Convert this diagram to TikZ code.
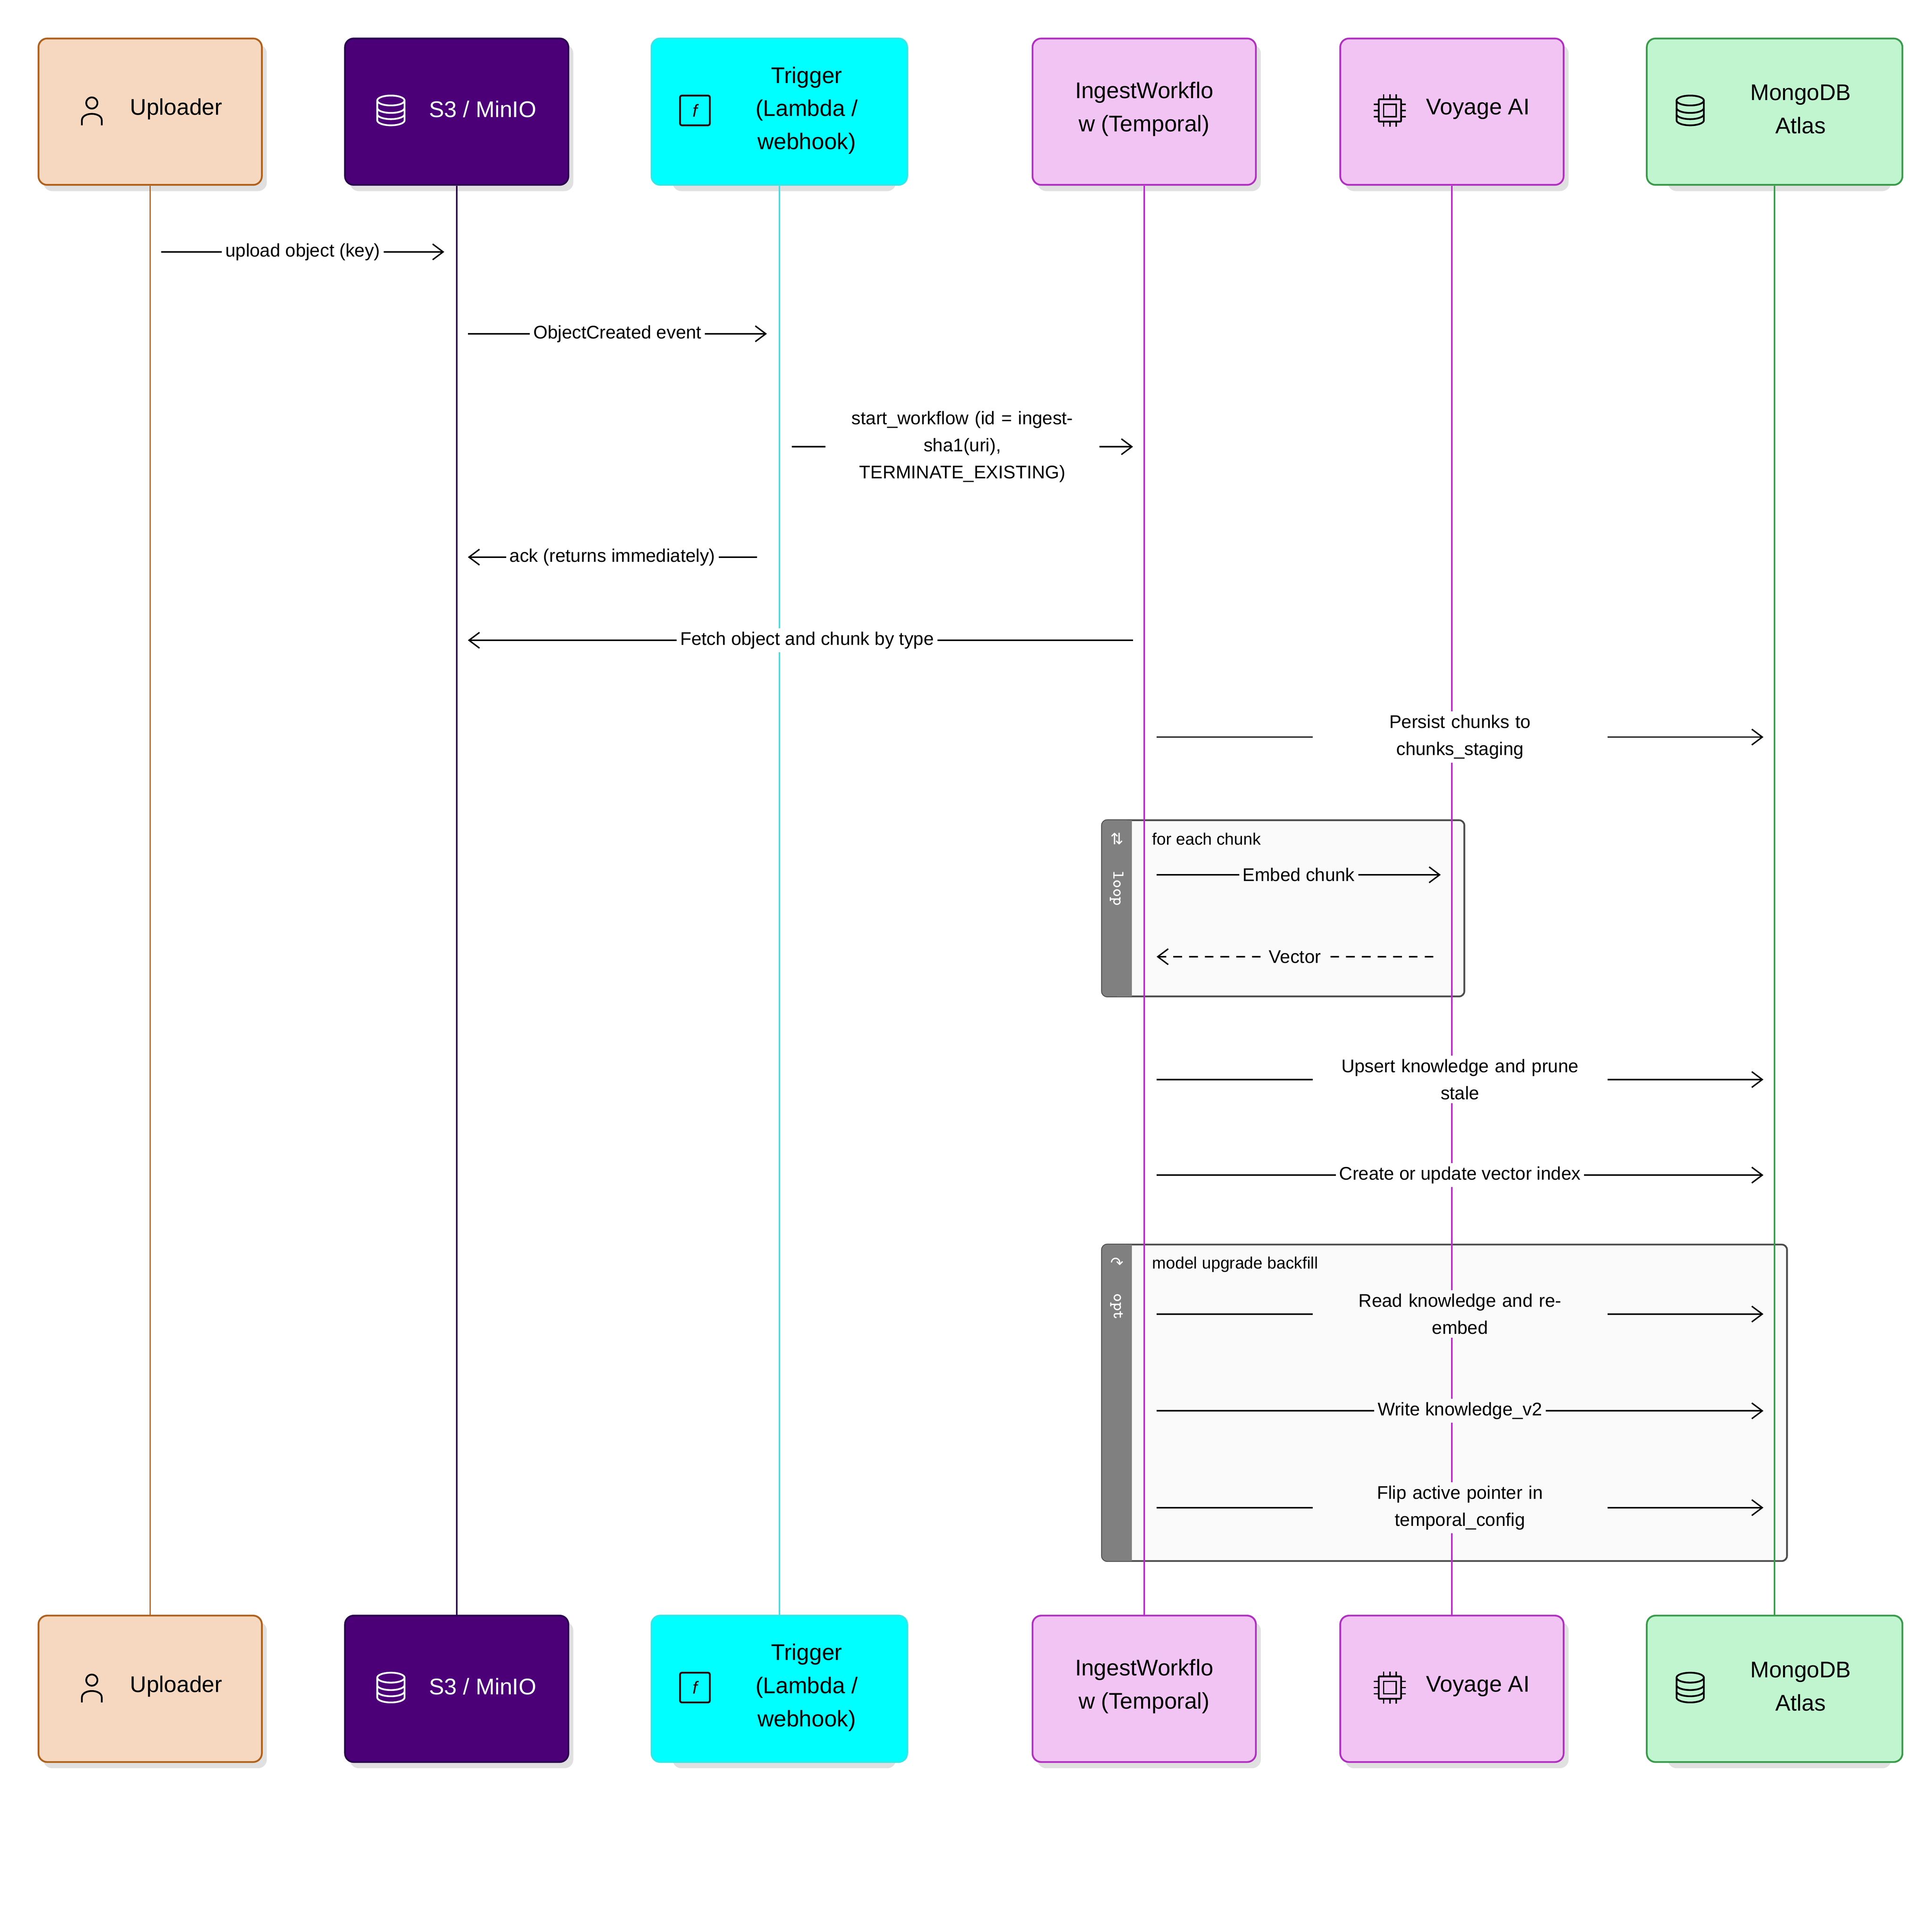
\documentclass[tikz,border=0pt]{standalone}
\usepackage{fontspec}
\setmainfont{Liberation Sans}
\newfontfamily\djv{DejaVu Sans}
\usetikzlibrary{arrows.meta}
\definecolor{upF}{HTML}{F6D8C0}\definecolor{upD}{HTML}{B0601A}
\definecolor{s3F}{HTML}{4B0078}\definecolor{s3D}{HTML}{2A0050}
\definecolor{trF}{HTML}{00FFFF}\definecolor{trD}{HTML}{30E8E8}
\definecolor{pkF}{HTML}{F2C4F4}\definecolor{pkD}{HTML}{B030C0}
\definecolor{mgF}{HTML}{C0F5D0}\definecolor{mgD}{HTML}{3A9A4A}
\tikzset{
  part/.style={rounded corners=10pt,line width=2pt,minimum width=180*0.05cm,minimum height=118*0.05cm,inner sep=0pt},
  shad/.style={fill=black!12,rounded corners=10pt},
  ptext/.style={font=\fontsize{26}{38}\selectfont,align=center},
  mlabel/.style={font=\fontsize{21}{31}\selectfont,fill=white,inner sep=4pt,align=center},
  msg/.style={line width=1.6pt,-{Straight Barb[length=12pt,width=18pt,line width=1.6pt]}},
  life/.style={line width=1.6pt},
  grp/.style={draw=black!70,line width=2pt,fill=black!2,rounded corners=6pt},
  pics/person/.style={code={\draw[line width=2pt] (0,-6) circle[radius=4.5];
     \draw[line width=2pt] (-8,12) -- (-8,8) .. controls (-8,1) and (8,1) .. (8,8) -- (8,12);}},
  pics/db/.style={code={\draw[line width=2pt] (0,-8) ellipse[x radius=11,y radius=4];
     \draw[line width=2pt] (-11,-8) -- (-11,8) arc[start angle=180,end angle=360,x radius=11,y radius=-4] -- (11,-8);
     \draw[line width=2pt] (-11,-2) arc[start angle=180,end angle=360,x radius=11,y radius=-4];
     \draw[line width=2pt] (-11,3) arc[start angle=180,end angle=360,x radius=11,y radius=-4];}},
  pics/fn/.style={code={\draw[line width=2pt,rounded corners=2pt] (-12,-12) rectangle (12,12);
     \node[font=\fontsize{20}{20}\selectfont\itshape] at (0,0) {f};}},
  pics/chip/.style={code={\draw[line width=2pt,rounded corners=1pt] (-9,-9) rectangle (9,9);
     \draw[line width=1.6pt] (-5,-5) rectangle (5,5);
     \foreach \t in {-5,0,5}{\draw[line width=1.6pt] (\t,-9)--(\t,-13) (\t,9)--(\t,13) (-9,\t)--(-13,\t) (9,\t)--(13,\t);}}},
}
\begin{document}
\begin{tikzpicture}[x=0.05cm,y=-0.05cm]
\useasboundingbox (0,0) rectangle (1552,1557);
% groups
\draw[grp] (888,661) rectangle (1180,803);
\fill[black!50,rounded corners=6pt] (888,661) rectangle (912,803);
\fill[black!50] (900,661) rectangle (912,803);
\node[font=\fontsize{18}{18}\selectfont\djv,text=white] at (900,676) {⇅};
\node[font=\fontsize{19}{19}\selectfont\ttfamily\bfseries,text=white,rotate=-90] at (900,716) {loop};
\node[anchor=west,font=\fontsize{19}{24}\selectfont] (lt) at (926,676) {for each chunk};
\draw[grp] (888,1003) rectangle (1440,1258);
\fill[black!50,rounded corners=6pt] (888,1003) rectangle (912,1258);
\fill[black!50] (900,1003) rectangle (912,1258);
\node[font=\fontsize{18}{18}\selectfont\djv,text=white] at (900,1018) {↷};
\node[font=\fontsize{19}{19}\selectfont\ttfamily\bfseries,text=white,rotate=-90] at (900,1053) {opt};
\node[anchor=west,font=\fontsize{19}{24}\selectfont] (ot) at (926,1019) {model upgrade backfill};
% participants
\foreach \n/\x/\f/\d in {u/121/upF/upD,s/368/s3F/s3D,t/628/trF/trD,i/922/pkF/pkD,v/1170/pkF/pkD,m/1430/mgF/mgD}{
  \fill[shad] (\x-86,36) rectangle (\x+94,154);
  \fill[shad] (\x-86,1307) rectangle (\x+94,1425);
}
\node[part,fill=upF,draw=upD] (uT) at (121,90) {};
\node[part,fill=upF,draw=upD] (uB) at (121,1361) {};
\node[part,fill=s3F,draw=s3D] (sT) at (368,90) {};
\node[part,fill=s3F,draw=s3D] (sB) at (368,1361) {};
\node[part,fill=trF,draw=trD,minimum width=206*0.05cm] (tT) at (628,90) {};
\node[part,fill=trF,draw=trD,minimum width=206*0.05cm] (tB) at (628,1361) {};
\node[part,fill=pkF,draw=pkD] (iT) at (922,90) {};
\node[part,fill=pkF,draw=pkD] (iB) at (922,1361) {};
\node[part,fill=pkF,draw=pkD] (vT) at (1170,90) {};
\node[part,fill=pkF,draw=pkD] (vB) at (1170,1361) {};
\node[part,fill=mgF,draw=mgD,minimum width=206*0.05cm] (mT) at (1430,90) {};
\node[part,fill=mgF,draw=mgD,minimum width=206*0.05cm] (mB) at (1430,1361) {};
\foreach \y/\s in {89/T,1360/B}{
  \pic at (74,\y) {person};
  \node[ptext] (uL\s) at (142,\y-1) {Uploader};
  \pic[white] at (315,\y) {db};
  \node[ptext,text=white] (sL\s) at (389,\y-1) {S3 / MinIO};
  \pic[black!80!red] at (560,\y) {fn};
  \node[ptext] (tL\s) at (650,\y) {Trigger\\(Lambda /\\webhook)};
  \node[ptext] (iL\s) at (922,\y-1) {IngestWorkflo\\w (Temporal)};
  \pic at (1120,\y) {chip};
  \node[ptext] (vL\s) at (1191,\y-1) {Voyage AI};
  \pic at (1362,\y) {db};
  \node[ptext] (mL\s) at (1451,\y-1) {MongoDB\\Atlas};
}
% lifelines
\draw[life,draw=upD] (uT.south) -- (uB.north);
\draw[life,draw=s3D] (sT.south) -- (sB.north);
\draw[life,draw=trD] (tT.south) -- (tB.north);
\draw[life,draw=pkD] (iT.south) -- (iB.north);
\draw[life,draw=pkD] (vT.south) -- (vB.north);
\draw[life,draw=mgD] (mT.south) -- (mB.north);
% messages
\draw[msg] (130,203) -- node[mlabel] (l1) {upload object (key)} (358,203);
\draw[msg] (377,269) -- node[mlabel] (l2) {ObjectCreated event} (618,269);
\draw[msg] (638,360) -- node[mlabel,text width=215*0.05cm] (l3) {start\_workflow (id = ingest-\\sha1(uri),\\TERMINATE\_EXISTING)} (913,360);
\draw[msg] (610,449) -- node[mlabel] (l4) {ack (returns immediately)} (377,449);
\draw[msg] (913,516) -- node[mlabel,pos=0.49] (l5) {Fetch object and chunk by type} (377,516);
\draw[msg] (932,594) -- node[mlabel,text width=232*0.05cm,pos=0.5] (l6) {Persist chunks to\\chunks\_staging} (1421,594);
\draw[msg] (932,705) -- node[mlabel,fill=black!2] (l7) {Embed chunk} (1161,705);
\draw[msg,dashed,dash pattern=on 10pt off 8pt] (1155,771) -- node[mlabel,fill=black!2] (l8) {Vector} (932,771);
\draw[msg] (932,870) -- node[mlabel,text width=232*0.05cm] (l9) {Upsert knowledge and prune\\stale} (1421,870);
\draw[msg] (932,947) -- node[mlabel] (l10) {Create or update vector index} (1421,947);
\draw[msg] (932,1059) -- node[mlabel,text width=232*0.05cm,fill=black!2] (l11) {Read knowledge and re-\\embed} (1421,1059);
\draw[msg] (932,1137) -- node[mlabel,fill=black!2] (l12) {Write knowledge\_v2} (1421,1137);
\draw[msg] (932,1215) -- node[mlabel,text width=232*0.05cm,fill=black!2] (l13) {Flip active pointer in\\temporal\_config} (1421,1215);
\end{tikzpicture}
\end{document}
